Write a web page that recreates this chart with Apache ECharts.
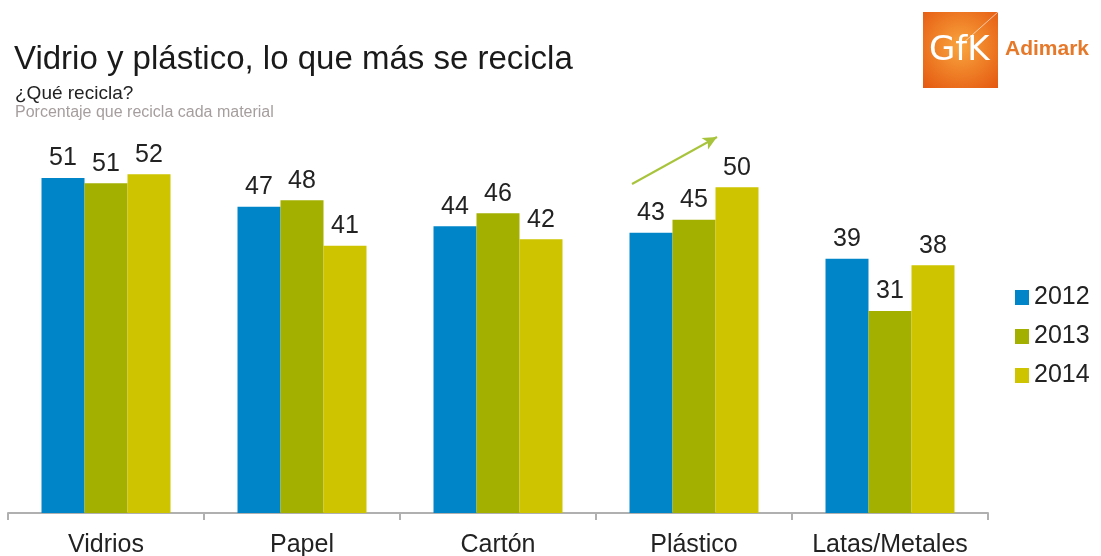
<!DOCTYPE html>
<html>
<head>
<meta charset="utf-8">
<script src="https://cdn.jsdelivr.net/npm/echarts@6/dist/echarts.min.js"></script>
<style>
  html, body { margin: 0; padding: 0; background: #fff; }
  #chart { width: 1101px; height: 556px; }
</style>
</head>
<body>
<div id="chart"></div>
<script>
// datos
var categorias = ['Vidrios', 'Papel', 'Cartón', 'Plástico', 'Latas/Metales']
var anios = ['2012', '2013', '2014']
var valores2012 = [51.4, 47, 44, 43, 39]
var valores2013 = [50.6, 48, 46, 45, 31]
var valores2014 = [52, 41, 42, 50, 38]
var colores = ['#0086c8', '#a3b000', '#cec400']

var chart = echarts.init(document.getElementById('chart'))

function serie(name, data, color) {
  return {
    name: name,
    type: 'bar',
    data: data,
    barWidth: 43,
    barGap: '0%',
    itemStyle: { color: color },
    label: {
      show: true,
      position: 'top',
      distance: 7,
      color: '#222',
      fontSize: 25,
      formatter: function(p) { return Math.round(p.value) }
    }
  }
}

var series = [
  serie(anios[0], valores2012, colores[0]),
  serie(anios[1], valores2013, colores[1]),
  serie(anios[2], valores2014, colores[2])
]
// flecha de tendencia sobre Plástico
series[2].markLine = {
  silent: true,
  symbol: ['none', 'arrow'],
  symbolSize: [10, 14],
  label: { show: false },
  lineStyle: { color: '#a8c43c', width: 2, type: 'solid' },
  data: [[{ x: 632, y: 184 }, { x: 717, y: 137 }]]
}

chart.setOption({
  animation: false,
  textStyle: { fontFamily: 'Liberation Sans, Arial, sans-serif' },
  title: [{
    text: 'Vidrio y plástico, lo que más se recicla',
    left: 9,
    top: 38,
    textStyle: { fontSize: 33, fontWeight: 'normal', color: '#1a1a1a' }
  }, {
    text: '¿Qué recicla?',
    left: 10,
    top: 79,
    textStyle: { fontSize: 19, fontWeight: 'normal', color: '#222' }
  }, {
    text: 'Porcentaje que recicla cada material',
    left: 10,
    top: 100,
    textStyle: { fontSize: 16, fontWeight: 'normal', color: '#a69e9e' }
  }],
  legend: {
    orient: 'vertical',
    left: 1010,
    top: 280,
    itemGap: 14,
    itemWidth: 14,
    itemHeight: 15,
    icon: 'rect',
    textStyle: { fontSize: 25, color: '#222' },
    data: anios
  },
  grid: {
    left: 8,
    right: 113,
    top: 122,
    bottom: 43,
    outerBoundsMode: 'none'
  },
  xAxis: {
    type: 'category',
    data: categorias,
    axisLine: { lineStyle: { color: '#b0b0b0', width: 2 } },
    axisTick: { show: true, length: 7, lineStyle: { color: '#b0b0b0', width: 2 } },
    axisLabel: { color: '#222', fontSize: 25, margin: 20, interval: 0 }
  },
  yAxis: {
    type: 'value',
    min: 0,
    max: 60,
    show: false,
    splitLine: { show: false }
  },
  graphic: [{
    type: 'rect',
    left: 923,
    top: 12,
    shape: { width: 75, height: 76 },
    style: {
      fill: {
        type: 'radial', x: 0.5, y: 0.45, r: 0.75,
        colorStops: [{ offset: 0, color: '#f9a53e' }, { offset: 1, color: '#e4570f' }]
      }
    }
  }, {
    type: 'line',
    shape: { x1: 962, y1: 44, x2: 998, y2: 12 },
    style: { stroke: 'rgba(255,255,255,0.6)', lineWidth: 1 }
  }, {
    type: 'text',
    left: 929,
    top: 34,
    style: { text: 'GfK', fill: '#fff', fontSize: 34, fontFamily: 'DejaVu Sans, sans-serif', fontWeight: 'normal' }
  }, {
    type: 'text',
    left: 1005,
    top: 39,
    style: { text: 'Adimark', fill: '#e6782a', fontSize: 21, fontWeight: 'bold', fontFamily: 'Liberation Sans, Arial, sans-serif' }
  }],
  series: series
})
</script>
</body>
</html>
